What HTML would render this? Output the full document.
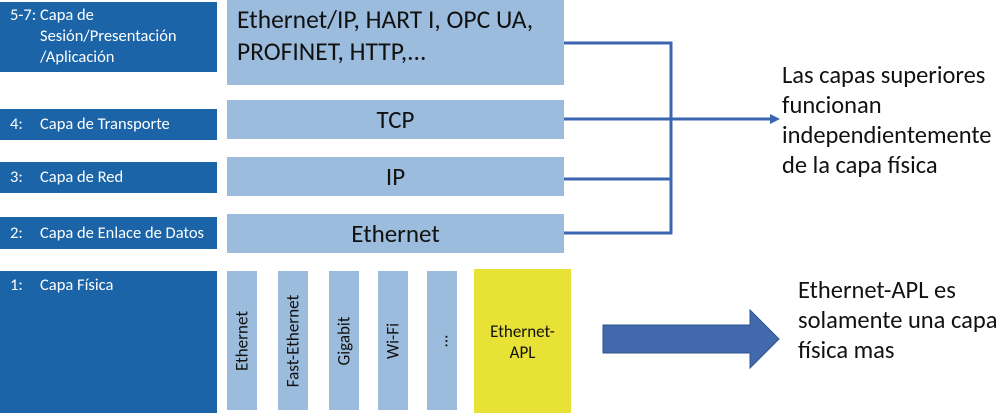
<!DOCTYPE html>
<html><head><meta charset="utf-8"><style>
body{margin:0;width:1000px;height:413px;background:#fff;position:relative;overflow:hidden;font-family:Calibri,"Liberation Sans",sans-serif}
.d{position:absolute;left:0;width:217px;background:#1b64a8;color:#fff;font-size:16.5px;box-sizing:border-box;padding-left:10px;white-space:nowrap}
.d i{font-style:normal;display:inline-block;width:30px}
.l{position:absolute;left:227px;width:337px;background:#9bbcdc;color:#111;font-size:25px;text-align:center}
.b{position:absolute;top:271px;height:139px;width:30px;background:#9bbcdc}
.b span{position:absolute;left:50%;top:50%;transform:translate(-50%,-50%) rotate(-90deg);white-space:nowrap;font-size:17px;color:#111}
.t{position:absolute;font-size:24.5px;line-height:30px;color:#111;white-space:nowrap}
</style></head><body>
<div class="d" style="top:2px;height:70px;padding-top:3px;line-height:21px"><i>5-7:</i>Capa de<br><span style="padding-left:30px">Sesión/Presentación</span><br><span style="padding-left:30px">/Aplicación</span></div>
<div class="d" style="top:109px;height:31px;line-height:31px"><i>4:</i>Capa de Transporte</div>
<div class="d" style="top:162px;height:31px;line-height:31px"><i>3:</i>Capa de Red</div>
<div class="d" style="top:217px;height:32px;line-height:32px"><i>2:</i>Capa de Enlace de Datos</div>
<div class="d" style="top:271px;height:142px;padding-top:4px;line-height:21px"><i>1:</i>Capa Física</div>
<div class="l" style="top:0;height:85px;text-align:left;padding-left:10px;box-sizing:border-box;line-height:32px;padding-top:4px;font-size:25.5px;white-space:nowrap">Ethernet/IP, HART I, OPC UA,<br>PROFINET, HTTP,...</div>
<div class="l" style="top:100px;height:39px;line-height:39px">TCP</div>
<div class="l" style="top:157px;height:39px;line-height:39px">IP</div>
<div class="l" style="top:214px;height:39px;line-height:39px">Ethernet</div>
<div class="b" style="left:227px"><span>Ethernet</span></div>
<div class="b" style="left:278px"><span>Fast-Ethernet</span></div>
<div class="b" style="left:329px"><span>Gigabit</span></div>
<div class="b" style="left:378px"><span>Wi-Fi</span></div>
<div class="b" style="left:427px"><span>...</span></div>
<div style="position:absolute;left:474px;top:269px;width:97px;height:144px;background:#e9e236;font-size:17px;text-align:center;padding-top:52px;box-sizing:border-box;line-height:21px;color:#111">Ethernet-<br>APL</div>
<svg width="1000" height="413" style="position:absolute;left:0;top:0">
<g stroke="#3a66b0" stroke-width="3" fill="none">
<path d="M564 43H671V233H564M564 119H771M564 179H671"/>
</g>
<path d="M770 114L780 119L770 124Z" fill="#3a66b0"/>
<path d="M603 325H750V310L779 339L750 368V353H603Z" fill="#4169ab" stroke="#2f558f" stroke-width="1"/>
</svg>
<div class="t" style="left:782px;top:60px">Las capas superiores<br>funcionan<br>independientemente<br>de la capa física</div>
<div class="t" style="left:798px;top:275px">Ethernet-APL es<br>solamente una capa<br>física mas</div>
</body></html>
